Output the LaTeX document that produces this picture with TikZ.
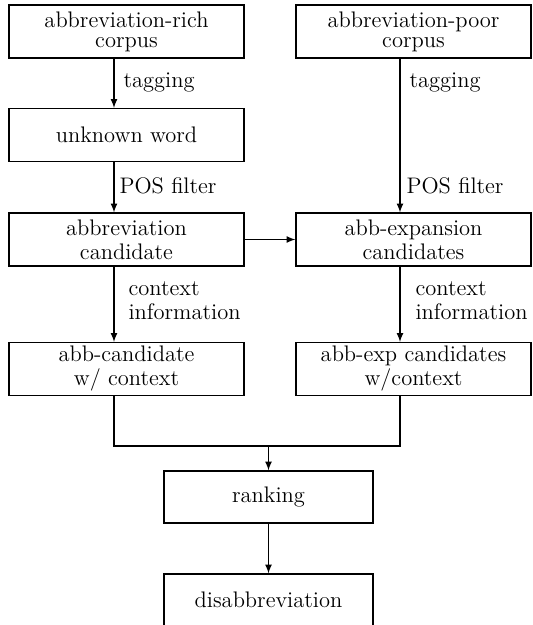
\documentclass[tikz,border=0pt]{standalone}
\usepackage{amsmath}
\usepackage{tikz}

\begin{document}
\begin{tikzpicture}[x=0.5pt,y=-0.5pt,>=latex,line width=0.55pt,
    every node/.style={font=\fontsize{11.25}{12}\selectfont},
    stage/.style={draw,align=center,inner sep=0pt,minimum width=117.5pt,minimum height=26.5pt},
    corpus/.style={stage,font=\fontsize{11.25}{10}\selectfont},
    final/.style={draw,align=center,inner sep=0pt,minimum width=104.5pt,minimum height=26pt},
    lbl/.style={anchor=base west,inner sep=0pt,align=left}]
      \useasboundingbox (0,0) rectangle (533,625);
      % the two columns of arrows
      \coordinate (lx) at (114,0);
      \coordinate (rx) at (400,0);
      \node[corpus] (rich) at (126.5,31.5) {abbreviation-rich\\corpus};
      \node[corpus] (poor) at (413.5,31.5) {abbreviation-poor\\corpus};
      \node[stage] (unk) at (126.5,135) {unknown word};
      \node[stage] (cand) at (126.5,239.5) {abbreviation\\candidate};
      \node[stage] (exp) at (413.5,239.5) {abb-expansion\\candidates};
      \node[stage] (candctx) at (126.5,369) {abb-candidate\\w/ context};
      \node[stage] (expctx) at (413.5,369) {abb-exp candidates\\w/context};
      \node[final] (rank) at (268.5,497) {ranking};
      \node[final] (disab) at (268.5,600) {disabbreviation};
      \coordinate (join) at (268.5,446);
      \draw[->] (rich.south -| lx) -- (unk.north -| lx);
      \draw[->] (unk.south -| lx) -- (cand.north -| lx);
      \draw[->] (cand.south -| lx) -- (candctx.north -| lx);
      \draw[->] (poor.south -| rx) -- (exp.north -| rx);
      \draw[->] (exp.south -| rx) -- (expctx.north -| rx);
      \draw[->] (cand) -- (exp);
      \draw (candctx.south -| lx) |- (join) -| (expctx.south -| rx);
      \draw[->] (join) -- (rank);
      \draw[->] (rank) -- (disab);
      \node[lbl] (tagl) at (123,88) {tagging};
      \node[lbl] (posl) at (119,194) {POS filter};
      \node[lbl] (ctxl) at (128,319) {context\\information};
      \node[lbl] (tagr) at (409,88) {tagging};
      \node[lbl] (posr) at (406,194) {POS filter};
      \node[lbl] (ctxr) at (415,319) {context\\information};
\end{tikzpicture}
\end{document}
